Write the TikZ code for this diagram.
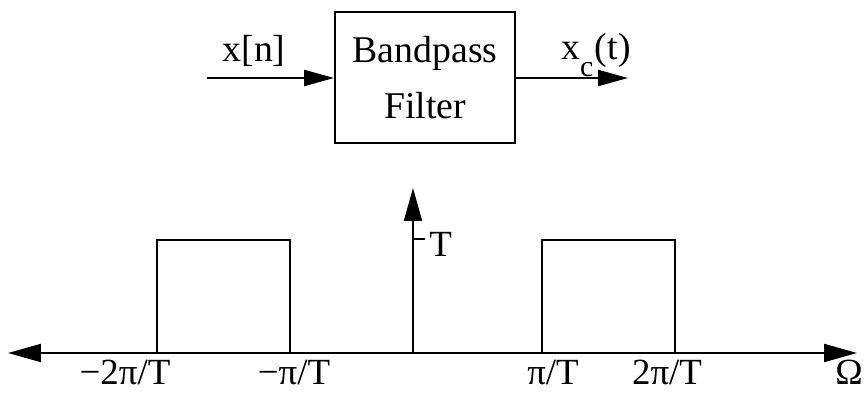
\documentclass[tikz,border=0pt]{standalone}
\usepackage{fontspec}
\setmainfont{Liberation Serif}
\usetikzlibrary{arrows.meta}
\tikzset{tipA/.tip={Triangle[length=0.66cm,width=0.36cm]}}
\begin{document}
\begin{tikzpicture}[x=0.02cm,y=-0.02cm,
  big/.style={font=\fontsize{21.5}{26}\selectfont},
  lab/.style={font=\fontsize{21}{25}\selectfont, inner sep=0pt},
  sig/.style={line width=1.3pt, -{Triangle[length=0.6cm,width=0.32cm]}},
  ax/.style={line width=1.2pt}]
\useasboundingbox (0,0) rectangle (866,394);
% block diagram
\node[big, draw, line width=1.1pt, minimum width=3.6cm, minimum height=2.62cm,
      align=center, inner sep=0pt] (filt) at (425,77.5) {Bandpass\\[0.2cm]Filter};
\coordinate (in) at (207,78);
\coordinate (out) at (628,78);
\draw[sig] (in) -- (in -| filt.west);
\draw[sig] (out -| filt.east) -- (out);
\node[big, anchor=base, inner sep=0pt] (xn) at (254,62) {x[n]};
\node[big, anchor=base west, inner sep=0pt] (xc) at (561,60)
  {x\raisebox{-0.45em}{\fontsize{17}{17}\selectfont c\kern0.05em}(t)};
% axes
\coordinate (L) at (8,353);
\coordinate (R) at (857,353);
\coordinate (O) at (413,353);
\coordinate (Top) at (413,188);
\draw[ax, tipA-tipA] (L) -- (R);
\draw[ax, -tipA] (O) -- (Top);
% tick T
\coordinate (tk) at (413,239);
\coordinate (tk2) at (425,239);
\draw[ax] (tk) -- (tk2);
\node[lab, anchor=base west] (Tl) at (429,257) {T};
% pulses
\coordinate (a1) at (157,353); \coordinate (a2) at (157,240);
\coordinate (a3) at (290,240); \coordinate (a4) at (290,353);
\coordinate (b1) at (542,353); \coordinate (b2) at (542,240);
\coordinate (b3) at (675,240); \coordinate (b4) at (675,353);
\draw[ax] (a1) -- (a2) -- (a3) -- (a4);
\draw[ax] (b1) -- (b2) -- (b3) -- (b4);
% labels
\node[lab, anchor=base] (l1) at (125,385) {−2π/T};
\node[lab, anchor=base] (l2) at (294,385) {−π/T};
\node[lab, anchor=base] (l3) at (553,385) {π/T};
\node[lab, anchor=base] (l4) at (667,385) {2π/T};
\node[lab, anchor=base] (om) at (849,385) {Ω};
\end{tikzpicture}
\end{document}
